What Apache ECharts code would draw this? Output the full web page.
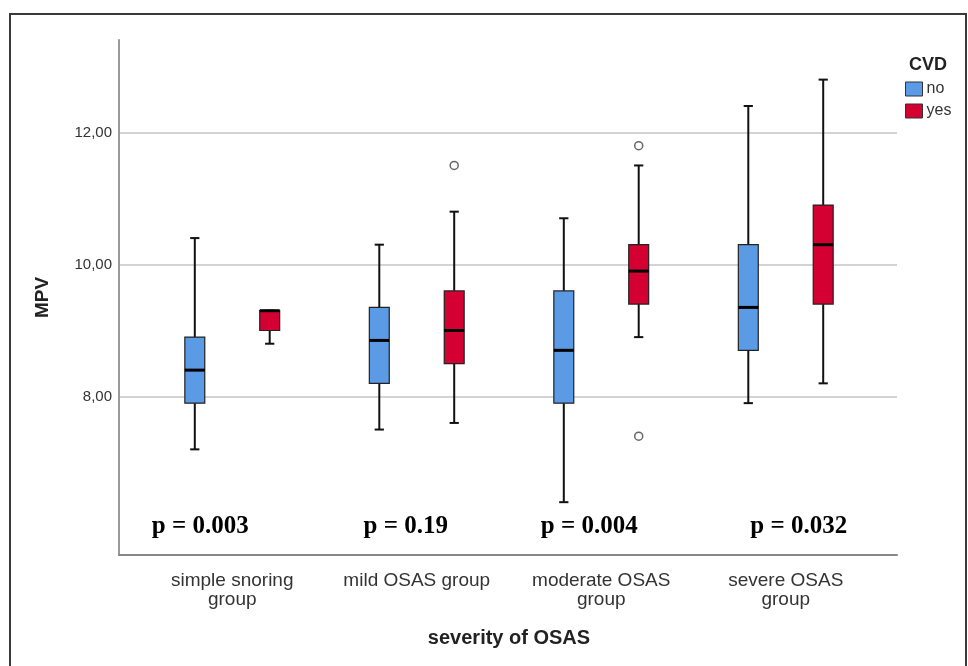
<!DOCTYPE html>
<html>
<head>
<meta charset="utf-8">
<script src="https://cdn.jsdelivr.net/npm/echarts@6/dist/echarts.min.js"></script>
<style>html,body{margin:0;padding:0;background:#fff;}#chart{width:968px;height:666px;}</style>
</head>
<body>
<div id="chart"></div>
<script>
// ---- data ----
const categories = ['simple snoring\ngroup', 'mild OSAS group', 'moderate OSAS\ngroup', 'severe OSAS\ngroup'];
const seriesNames = ['no', 'yes'];
// [min, Q1, median, Q3, max]
const noStats = [
  [7.2, 7.9, 8.4, 8.9, 10.4],
  [7.5, 8.2, 8.85, 9.35, 10.3],
  [6.4, 7.9, 8.7, 9.6, 10.7],
  [7.9, 8.7, 9.35, 10.3, 12.4]
];
const yesStats = [
  [8.8, 9.0, 9.3, 9.3, 9.3],
  [7.6, 8.5, 9.0, 9.6, 10.8],
  [8.9, 9.4, 9.9, 10.3, 11.5],
  [8.2, 9.4, 10.3, 10.9, 12.8]
];
const noOutliers = [];
const yesOutliers = [[1, 11.5], [2, 11.8], [2, 7.4]];
const pValues = ['p = 0.003', 'p = 0.19', 'p = 0.004', 'p = 0.032'];
const yTickValues = [8, 10, 12];
const yMin = 5.6, yMax = 13.4;

// ---- styles ----
const colors = { no: '#5B9BE6', yes: '#D50032' };
const pLabelShift = [-32, -11, -12, 13];
const sideShift = 0.203, boxFrac = 0.108, capFrac = 0.05;
const FONT = '"Liberation Sans", Arial, sans-serif';

function boxRenderer(side) {
  return function (params, api) {
    const idx = api.value(0);
    const band = api.size([1, 0])[0];
    const cx = api.coord([idx, yMin])[0] + side * band * sideShift;
    const y = [1, 2, 3, 4, 5].map(d => api.coord([idx, api.value(d)])[1]);
    const bw = band * boxFrac, cw = band * capFrac;
    const lineStyle = { stroke: '#111', lineWidth: 2 };
    return {
      type: 'group',
      children: [
        { type: 'line', shape: { x1: cx, y1: y[4], x2: cx, y2: y[3] }, style: lineStyle },
        { type: 'line', shape: { x1: cx, y1: y[1], x2: cx, y2: y[0] }, style: lineStyle },
        { type: 'line', shape: { x1: cx - cw / 2, y1: y[4], x2: cx + cw / 2, y2: y[4] }, style: lineStyle },
        { type: 'line', shape: { x1: cx - cw / 2, y1: y[0], x2: cx + cw / 2, y2: y[0] }, style: lineStyle },
        { type: 'rect', shape: { x: cx - bw / 2, y: y[3], width: bw, height: y[1] - y[3] },
          style: { fill: api.visual('color'), stroke: '#222', lineWidth: 1.2 } },
        { type: 'line', shape: { x1: cx - bw / 2, y1: y[2], x2: cx + bw / 2, y2: y[2] },
          style: { stroke: '#000', lineWidth: 3 } }
      ]
    };
  };
}
function outlierRenderer(side) {
  return function (params, api) {
    const idx = api.value(0);
    const band = api.size([1, 0])[0];
    const p = api.coord([idx, api.value(1)]);
    return { type: 'circle', shape: { cx: p[0] + side * band * sideShift, cy: p[1], r: 4 },
      style: { fill: '#fff', stroke: '#666', lineWidth: 1.5 } };
  };
}
function pRenderer(params, api) {
  const idx = api.value(0);
  const p = api.coord([idx, 6]);
  return { type: 'text', x: p[0] + pLabelShift[idx], y: p[1] - 2,
    style: { text: pValues[idx], fill: '#000', align: 'center', verticalAlign: 'middle',
      font: 'bold 25px "Liberation Serif", "Times New Roman", serif' } };
}

const chart = echarts.init(document.getElementById('chart'), null, { renderer: 'canvas' });
chart.setOption({
  animation: false,
  backgroundColor: '#fff',
  title: { text: 'CVD', left: 904, top: 51, textStyle: { fontFamily: FONT, fontSize: 18, fontWeight: 'bold', color: '#222' } },
  legend: {
    data: seriesNames.map(n => ({ name: n, icon: 'rect' })),
    orient: 'vertical', left: 905, top: 81, padding: 0, itemWidth: 17, itemHeight: 14, itemGap: 6,
    itemStyle: { borderColor: '#333', borderWidth: 1 },
    textStyle: { fontFamily: FONT, fontSize: 16, color: '#333', padding: [0, 0, 0, -1] }
  },
  grid: [
    { left: 140, right: 90, top: 40, bottom: 111 },
    { left: 119, right: 71, top: 40, bottom: 111 }
  ],
  xAxis: [
    { type: 'category', gridIndex: 0, data: categories,
      axisLine: { show: false }, axisTick: { show: false },
      axisLabel: { fontFamily: FONT, fontSize: 19, lineHeight: 19, color: '#333', margin: 16, interval: 0 },
      name: 'severity of OSAS', nameLocation: 'middle', nameGap: 73,
      nameTextStyle: { fontFamily: FONT, fontSize: 20, fontWeight: 'bold', color: '#222' } },
    { type: 'value', gridIndex: 1, min: 0, max: 1,
      axisLine: { show: true, lineStyle: { color: '#888', width: 2 } },
      axisTick: { show: false }, axisLabel: { show: false }, splitLine: { show: false } }
  ],
  yAxis: [
    { type: 'value', gridIndex: 0, min: yMin, max: yMax, show: false },
    { type: 'value', gridIndex: 1, min: yMin, max: yMax,
      axisLine: { show: true, lineStyle: { color: '#999', width: 2 } },
      axisTick: { show: false, customValues: yTickValues },
      axisLabel: { customValues: yTickValues, fontFamily: FONT, fontSize: 15, color: '#333', margin: 7,
        formatter: v => v.toFixed(2).replace('.', ',') },
      splitLine: { show: true, lineStyle: { color: '#d4d4d4', width: 2 } },
      name: 'MPV', nameLocation: 'middle', nameGap: 67,
      nameTextStyle: { fontFamily: FONT, fontSize: 19, fontWeight: 'bold', color: '#222' } }
  ],
  graphic: [
    { type: 'rect', shape: { x: 10, y: 14, width: 956, height: 720 }, style: { fill: 'none', stroke: '#3a3a3a', lineWidth: 2 }, silent: true }
  ],
  series: [
    { name: 'no', type: 'custom', xAxisIndex: 0, yAxisIndex: 0, itemStyle: { color: colors.no },
      renderItem: boxRenderer(-1), encode: { x: 0, y: [1, 2, 3, 4, 5] },
      data: noStats.map((s, i) => [i].concat(s)) },
    { name: 'yes', type: 'custom', xAxisIndex: 0, yAxisIndex: 0, itemStyle: { color: colors.yes },
      renderItem: boxRenderer(1), encode: { x: 0, y: [1, 2, 3, 4, 5] },
      data: yesStats.map((s, i) => [i].concat(s)) },
    { name: 'no', type: 'custom', xAxisIndex: 0, yAxisIndex: 0, itemStyle: { color: colors.no },
      renderItem: outlierRenderer(-1), encode: { x: 0, y: 1 }, data: noOutliers },
    { name: 'yes', type: 'custom', xAxisIndex: 0, yAxisIndex: 0, itemStyle: { color: colors.yes },
      renderItem: outlierRenderer(1), encode: { x: 0, y: 1 }, data: yesOutliers },
    { name: 'p', type: 'custom', xAxisIndex: 0, yAxisIndex: 0, silent: true,
      renderItem: pRenderer, encode: { x: 0, y: 1 }, data: pValues.map((t, i) => [i, 6]) }
  ]
});
</script>
</body>
</html>
